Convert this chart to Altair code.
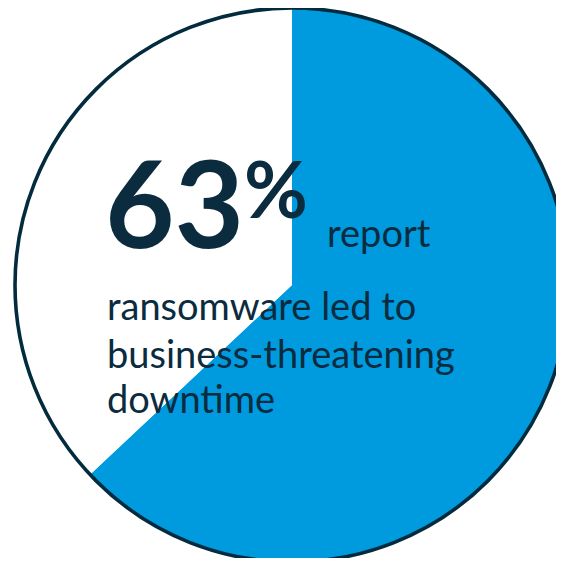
import altair as alt
import pandas as pd

# Data
categories = ["Business-threatening downtime", "Other"]
values = [63, 37]
order_idx = [0, 1]

headline_number = "63"
headline_unit = "%"
headline_word = "report"
body_lines = ["ransomware led to", "business-threatening", "downtime"]

BLUE = "#009ADE"
NAVY = "#022B3E"
TEXT = "#0B2B3E"
FONT = "Lato"

CX, CY, R = 284, 277, 277

df = pd.DataFrame({"category": categories, "value": values, "idx": order_idx})

pie = alt.Chart(df).mark_arc(radius=R, stroke=None).encode(
    theta=alt.Theta("value:Q", stack=True),
    color=alt.Color("category:N",
                    scale=alt.Scale(domain=categories, range=[BLUE, "#FFFFFF"]),
                    legend=None),
    order=alt.Order("idx:Q"),
    x=alt.value(CX), y=alt.value(CY),
)

outline = alt.Chart(pd.DataFrame({"v": [sum(values)]})).mark_arc(
    radius=R, fillOpacity=0, stroke=NAVY, strokeWidth=3.6
).encode(theta=alt.Theta("v:Q"), x=alt.value(CX), y=alt.value(CY))

def txt(s, x, y, size, weight="normal"):
    return alt.Chart(pd.DataFrame({"t": [s]})).mark_text(
        align="left", baseline="alphabetic", font=FONT, fontSize=size,
        fontWeight=weight, color=TEXT
    ).encode(text="t:N", x=alt.value(x), y=alt.value(y))

layers = [pie, outline,
          txt(headline_number, 97, 240, 120, "bold"),
          txt(headline_unit, 236, 210, 78, "bold"),
          txt(headline_word, 319, 239, 38)]
for i, line in enumerate(body_lines):
    layers.append(txt(line, 99, [312, 360, 405][i], 38))

chart = alt.layer(*layers).properties(
    width=548, height=550, padding=0,
    autosize=alt.AutoSizeParams(type="none"),
    background="white",
).configure_view(stroke=None)

chart.save("out.html", embed_options={"renderer": "svg", "actions": False})
